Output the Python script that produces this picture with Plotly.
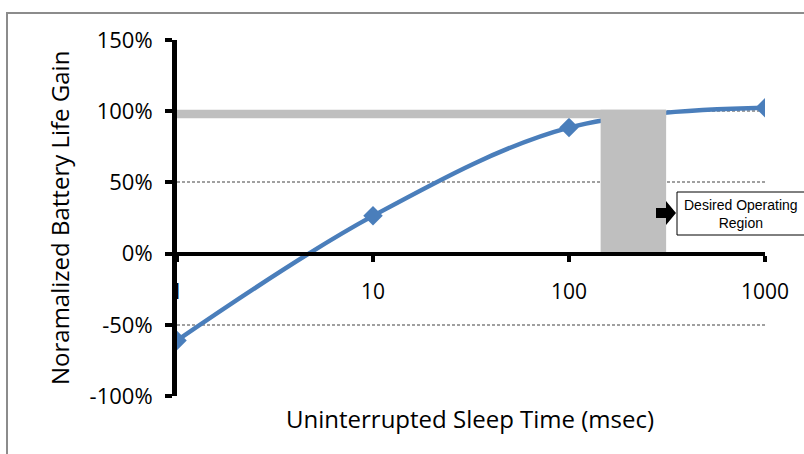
import plotly.graph_objects as go

# Data
sleep_ms = [1, 10, 100, 1000]
gain_pct = [-61, 26.5, 88.5, 102.5]
y_ticks = [-100, -50, 0, 50, 100, 150]
y_tick_labels = ["-100%", "-50%", "0%", "50%", "100%", "150%"]
x_ticks = [1, 10, 100, 1000]
x_tick_labels = ["1", "10", "100", "1000"]
band_x = [1, 313]
band_y = [95, 101]
region_x = [145, 313]
region_y = [0, 101]

FONT = "Open Sans"
GRAY = "#bfbfbf"

fig = go.Figure()

fig.add_trace(go.Scatter(
    x=sleep_ms, y=gain_pct, mode="lines+markers",
    line=dict(color="#4a7ebb", width=4.5, shape="spline", smoothing=1.0),
    marker=dict(symbol="diamond", size=15, color="#4a7ebb"),
    showlegend=False, hoverinfo="skip"))

# horizontal band
fig.add_trace(go.Scatter(
    x=[band_x[0], band_x[1], band_x[1], band_x[0], band_x[0]],
    y=[band_y[0], band_y[0], band_y[1], band_y[1], band_y[0]],
    fill="toself", fillcolor=GRAY, mode="lines", line=dict(width=0, color=GRAY),
    showlegend=False, hoverinfo="skip"))
# vertical desired region
fig.add_trace(go.Scatter(
    x=[region_x[0], region_x[1], region_x[1], region_x[0], region_x[0]],
    y=[region_y[0], region_y[0], region_y[1], region_y[1], region_y[0]],
    fill="toself", fillcolor=GRAY, mode="lines", line=dict(width=0, color=GRAY),
    showlegend=False, hoverinfo="skip"))

W, H = 804, 454
L, R, T, B = 177, 39, 40, 58
pw, ph = W - L - R, H - T - B

def px(xp):
    return (xp - L) / pw

def py(yp):
    return (H - B - yp) / ph

shapes = []
# outer frame
shapes.append(dict(type="rect", xref="paper", yref="paper",
                   x0=px(7), x1=px(830), y0=py(480), y1=py(13),
                   line=dict(color="#8c8c8c", width=2), layer="below"))
# arrow (block arrow)
ax0, ax1, ax2 = 656, 666, 676
ayc = 213
path = (f"M {px(ax0)} {py(ayc-5)} L {px(ax1)} {py(ayc-5)} L {px(ax1)} {py(ayc-12)} "
        f"L {px(ax2)} {py(ayc)} L {px(ax1)} {py(ayc+12)} L {px(ax1)} {py(ayc+5)} "
        f"L {px(ax0)} {py(ayc+5)} Z")
shapes.append(dict(type="path", xref="paper", yref="paper", path=path,
                   fillcolor="black", line=dict(width=0)))
# label box
shapes.append(dict(type="rect", xref="paper", yref="paper",
                   x0=px(677), x1=px(820), y0=py(235), y1=py(192),
                   fillcolor="white", line=dict(color="black", width=1)))

annotations = [
    dict(text="Desired Operating<br>Region", xref="paper", yref="paper",
         x=px(741), y=py(214), showarrow=False,
         font=dict(family="Liberation Sans", size=14, color="black"),
         xanchor="center", yanchor="middle"),
    dict(text="Uninterrupted Sleep Time (msec)", xref="paper", yref="paper",
         x=px(470), y=py(418), showarrow=False,
         font=dict(family=FONT, size=24, color="black"),
         xanchor="center", yanchor="middle"),
    dict(text="Noramalized Battery Life Gain", xref="paper", yref="paper",
         x=px(59), y=py(218), showarrow=False, textangle=-90,
         font=dict(family=FONT, size=24, color="black"),
         xanchor="center", yanchor="middle"),
]

fig.update_layout(
    width=W, height=H,
    margin=dict(l=L, r=R, t=T, b=B),
    paper_bgcolor="white", plot_bgcolor="white",
    shapes=shapes, annotations=annotations,
    xaxis=dict(type="log", range=[0, 3], tickvals=x_ticks, ticktext=x_tick_labels,
               anchor="free", position=0.4, showline=True, linecolor="black",
               linewidth=4, ticks="outside", ticklen=6, tickwidth=4, tickcolor="black",
               ticklabelstandoff=12,
               showgrid=False, zeroline=False,
               tickfont=dict(family=FONT, size=21, color="black")),
    yaxis=dict(range=[-100, 150], tickvals=y_ticks, ticktext=y_tick_labels,
               showline=True, linecolor="black", linewidth=5,
               ticks="outside", ticklen=7, tickwidth=4, tickcolor="black",
               ticklabelstandoff=8,
               showgrid=True, gridcolor="#a0a0a0", griddash="3px,2px", gridwidth=2,
               zeroline=False,
               tickfont=dict(family=FONT, size=22, color="black")),
)

fig.write_html("out.html", config={"displayModeBar": False},
               post_script="document.body.style.margin='0';document.body.style.padding='0';")
